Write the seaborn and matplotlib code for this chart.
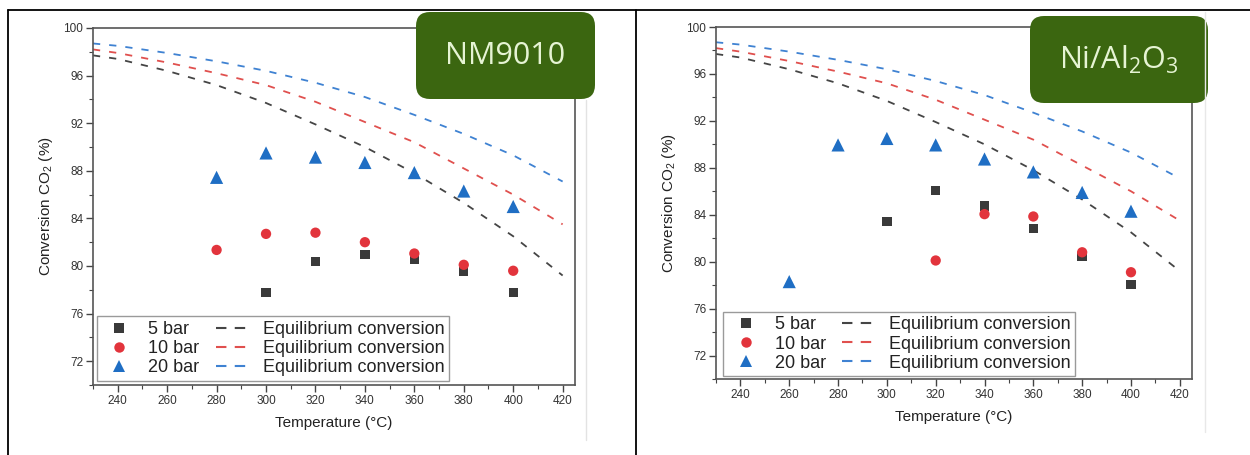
import numpy as np
import pandas as pd
import matplotlib
matplotlib.use("Agg")
import matplotlib.pyplot as plt
import seaborn as sns
from matplotlib.lines import Line2D
from matplotlib.patches import FancyBboxPatch
from matplotlib.transforms import IdentityTransform

# ---------------- data ----------------
pressures = ["5 bar", "10 bar", "20 bar"]

eq_temps = [230, 240, 260, 280, 300, 320, 340, 360, 380, 400, 420]
eq_5 = [97.7, 97.4, 96.4, 95.2, 93.7, 91.9, 90.0, 87.8, 85.3, 82.5, 79.2]
eq_10 = [98.2, 97.9, 97.1, 96.2, 95.2, 93.8, 92.1, 90.4, 88.2, 86.0, 83.5]
eq_20 = [98.7, 98.5, 97.9, 97.2, 96.4, 95.4, 94.2, 92.7, 91.1, 89.3, 87.1]

# NM9010
nm_t_5 = [300, 320, 340, 360, 380, 400]
nm_x_5 = [77.8, 80.35, 80.95, 80.55, 79.55, 77.8]
nm_t_10 = [280, 300, 320, 340, 360, 380, 400]
nm_x_10 = [81.35, 82.7, 82.8, 82.0, 81.05, 80.1, 79.6]
nm_t_20 = [280, 300, 320, 340, 360, 380, 400]
nm_x_20 = [87.45, 89.5, 89.15, 88.7, 87.85, 86.3, 85.0]

# Ni/Al2O3
ni_t_5 = [300, 320, 340, 360, 380, 400]
ni_x_5 = [83.4, 86.05, 84.75, 82.85, 80.45, 78.05]
ni_t_10 = [320, 340, 360, 380, 400]
ni_x_10 = [80.1, 84.05, 83.85, 80.8, 79.1]
ni_t_20 = [260, 280, 300, 320, 340, 360, 380, 400]
ni_x_20 = [78.3, 89.95, 90.5, 89.95, 88.75, 87.65, 85.9, 84.3]

panel_titles = ["NM9010", "Ni/Al$_2$O$_3$"]
x_ticks = [240, 260, 280, 300, 320, 340, 360, 380, 400, 420]
y_ticks = [72, 76, 80, 84, 88, 92, 96, 100]

# ---------------- style ----------------
sns.set_style("white")
plt.rcParams["font.family"] = ["Liberation Sans", "DejaVu Sans"]
plt.rcParams["mathtext.default"] = "regular"

marker_cols = {"5 bar": "#3a3a3a", "10 bar": "#e2343c", "20 bar": "#1f6ec4"}
line_cols = {"5 bar": "#454545", "10 bar": "#e0504e", "20 bar": "#3f82d2"}
markers = {"5 bar": "s", "10 bar": "o", "20 bar": "^"}
msizes = {"5 bar": 45, "10 bar": 55, "20 bar": 90}

eq_df = pd.DataFrame({
    "T": eq_temps * 3,
    "X": eq_5 + eq_10 + eq_20,
    "P": [p for p in pressures for _ in eq_temps],
})


def exp_df(t5, x5, t10, x10, t20, x20):
    return pd.DataFrame({
        "T": t5 + t10 + t20,
        "X": x5 + x10 + x20,
        "P": ["5 bar"] * len(t5) + ["10 bar"] * len(t10) + ["20 bar"] * len(t20),
    })


datasets = [
    exp_df(nm_t_5, nm_x_5, nm_t_10, nm_x_10, nm_t_20, nm_x_20),
    exp_df(ni_t_5, ni_x_5, ni_t_10, ni_x_10, ni_t_20, ni_x_20),
]

W, H = 1250, 455
fig = plt.figure(figsize=(12.5, 4.55), dpi=100)
fig.patch.set_facecolor("white")

# axes rectangles in pixels: left, top, right, bottom
rects = [(93, 28, 575, 385), (716, 27, 1192, 379)]
legend_anchor = [(0.008, 0.012), (0.015, 0.008)]
boxes = [(416, 12, 595, 99), (1030, 16, 1208, 103)]

for i, (l, t, r, b) in enumerate(rects):
    ax = fig.add_axes([l / W, (H - b) / H, (r - l) / W, (b - t) / H])
    sns.lineplot(data=eq_df, x="T", y="X", hue="P", style="P",
                 palette=line_cols, dashes={p: (4, 5) for p in pressures},
                 linewidth=1.3, legend=False, ax=ax, zorder=2)
    sns.scatterplot(data=datasets[i], x="T", y="X", hue="P", style="P",
                    size="P", sizes=msizes, markers=markers,
                    palette=marker_cols, linewidth=0, legend=False,
                    ax=ax, zorder=3)
    ax.set_xlim(230, 425)
    ax.set_ylim(70, 100)
    ax.set_xticks(x_ticks)
    ax.set_yticks(y_ticks)
    ax.set_xticks(np.arange(230, 426, 10), minor=True)
    ax.set_yticks(np.arange(70, 101, 2), minor=True)
    ax.tick_params(which="major", direction="out", length=5, width=1,
                   color="#444444", labelsize=8.5, labelcolor="#333333", pad=2)
    ax.tick_params(which="minor", direction="out", length=3, width=0.8,
                   color="#444444")
    ax.tick_params(axis="x", bottom=True, which="both")
    ax.tick_params(axis="y", left=True, which="both")
    for sp in ax.spines.values():
        sp.set_color("#555555")
        sp.set_linewidth(1.2)
    ax.set_xlabel("Temperature (°C)", fontsize=11, color="#222222", labelpad=7)
    ax.set_ylabel("Conversion CO$_2$ (%)", fontsize=11, color="#222222", labelpad=6)

    handles = [Line2D([], [], linestyle="none", marker=markers[p],
                      markersize={"5 bar": 6.5, "10 bar": 7.5, "20 bar": 9}[p],
                      markerfacecolor=marker_cols[p], markeredgewidth=0)
               for p in pressures]
    handles += [Line2D([], [], color=line_cols[p], linewidth=1.5,
                       dashes=(5, 4)) for p in pressures]
    labels = pressures + ["Equilibrium conversion"] * 3
    leg = ax.legend(handles, labels, ncol=2, loc="lower left",
                    bbox_to_anchor=legend_anchor[i], fontsize=13,
                    frameon=True, fancybox=False, framealpha=1,
                    edgecolor="#9a9a9a", borderpad=0.25, labelspacing=0.12,
                    handlelength=2.0, handletextpad=0.6, columnspacing=0.9,
                    borderaxespad=0)
    leg.get_frame().set_linewidth(1.0)
    for txt in leg.get_texts():
        txt.set_color("#222222")

    # green label box
    bl, bt, br, bb = boxes[i]
    box = FancyBboxPatch((bl, H - bb), br - bl, bb - bt,
                         boxstyle="round,pad=0,rounding_size=14",
                         transform=IdentityTransform(), facecolor="#3b6610",
                         edgecolor="none", zorder=10)
    fig.add_artist(box)
    fig.text((bl + br) / 2 / W, (H - (bt + bb) / 2) / H, panel_titles[i],
             ha="center", va="center", fontsize=22, color="#e6f4d4",
             family=["Open Sans", "DejaVu Sans"], zorder=11)

# table borders
def px_line(xs, ys, color="black", lw=1.3):
    fig.add_artist(Line2D([x / W for x in xs], [(H - y) / H for y in ys],
                          transform=fig.transFigure, color=color, linewidth=lw,
                          zorder=12))

px_line([8, 1250], [10, 10])
px_line([8, 8], [10, 455])
px_line([636, 636], [10, 455])
# faint image edges
px_line([586, 586], [100, 440], color="#e3e3e3", lw=1.0)
px_line([1205, 1205], [12, 432], color="#e8e8e8", lw=1.0)

fig.savefig("out.png", dpi=100, facecolor="white")
